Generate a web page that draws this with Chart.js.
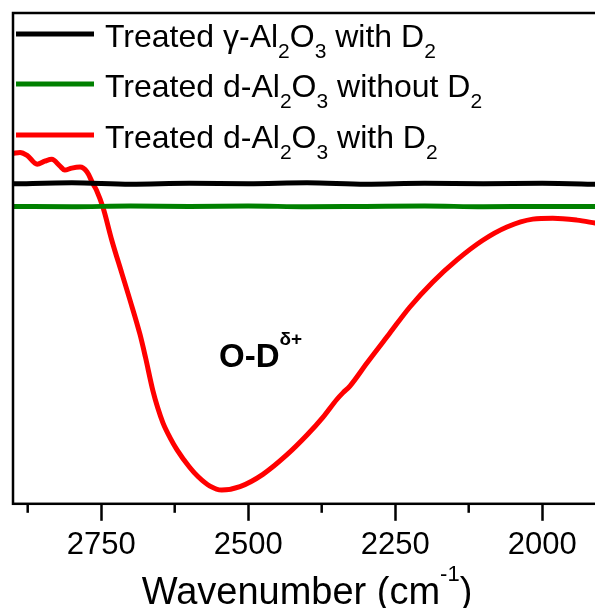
<!DOCTYPE html>
<html>
<head>
<meta charset="utf-8">
<script src="https://cdn.jsdelivr.net/npm/chart.js@4"></script>
<style>
    html, body { margin: 0; padding: 0; background: #fff; overflow: hidden; }
    #wrap { width: 595px; height: 608px; overflow: hidden; }
    canvas { display: block; }
</style>
</head>
<body>
<div id="wrap"><canvas id="spectrum" width="602" height="608"></canvas></div>
<script>
// wavenumber axis (cm-1), drawn reversed
const xMin = 1900;
const xMax = 2900;
const majorTicks = [2750, 2500, 2250, 2000];
const minorTicks = [2875, 2625, 2375, 2125];

// red: treated d-Al2O3 with D2
const redWavenumbers = [2900, 2888, 2876, 2859, 2846, 2834, 2820, 2812, 2800, 2786, 2774, 2764, 2758,
    2747, 2732, 2715, 2701, 2684, 2675, 2662, 2654, 2645, 2633, 2621, 2600, 2585, 2565, 2545, 2514,
    2475, 2434, 2400, 2373, 2349, 2339, 2327, 2298, 2259, 2225, 2186, 2145, 2101, 2060, 2016, 1982,
    1941, 1910, 1895];
const redValues = [71.4, 71.6, 71.0, 69.2, 69.8, 70.2, 68.8, 68.0, 68.4, 68.6, 67.6, 65.2, 63.9,
    60.4, 53.7, 47.0, 41.5, 34.5, 30.0, 23.0, 19.6, 16.5, 13.5, 11.0, 7.5, 5.5, 3.6, 2.8, 3.5,
    6.0, 10.0, 14.0, 17.6, 21.3, 22.6, 24.0, 28.7, 34.8, 40.1, 45.2, 49.7, 53.7, 56.4, 58.0, 58.2,
    57.8, 57.2, 56.9];

// black and green: flat baselines
const flatWavenumbers = [2900, 2800, 2700, 2600, 2500, 2400, 2300, 2200, 2100, 2000, 1900];
const blackValues = [65.2, 65.4, 65.1, 65.3, 65.2, 65.4, 65.1, 65.3, 65.2, 65.3, 65.1];
const greenValues = [60.6, 60.5, 60.7, 60.6, 60.7, 60.5, 60.6, 60.7, 60.5, 60.6, 60.6];

const seriesColors = ['#000000', '#008000', '#ff0000'];
// legend text, split for subscripts
const legendTexts = [
    [['Treated γ-Al'], ['2', 'sub'], ['O'], ['3', 'sub'], [' with D'], ['2', 'sub']],
    [['Treated d-Al'], ['2', 'sub'], ['O'], ['3', 'sub'], [' without D'], ['2', 'sub']],
    [['Treated d-Al'], ['2', 'sub'], ['O'], ['3', 'sub'], [' with D'], ['2', 'sub']]
];
const axisTitle = [['Wavenumber (cm'], ['-1', 'sup'], [')']];
const peakLabel = [['O-D'], ['δ+', 'sup']];

const FONT = '"Liberation Sans", Arial, sans-serif';

function toPoints(xs, ys) {
    return xs.map((x, i) => ({ x: x, y: ys[i] }));
}

/**
 * draw text pieces with sub / superscripts, returns total width
 */
function drawRich(ctx, parts, x, y, opt, measureOnly) {
    let cx = x;
    parts.forEach(p => {
        const kind = p[1];
        const size = kind ? opt.small : opt.size;
        ctx.font = (opt.bold ? 'bold ' : '') + size + 'px ' + FONT;
        let dy = 0;
        if (kind === 'sub') dy = opt.subDy;
        if (kind === 'sup') dy = -opt.supDy;
        if (!measureOnly) ctx.fillText(p[0], cx, y + dy);
        cx += ctx.measureText(p[0]).width;
    });
    return cx - x;
}

const decorPlugin = {
    id: 'decor',
    afterDraw(chart) {
        const ctx = chart.ctx;
        const a = chart.chartArea;
        const xs = chart.scales.x;
        ctx.save();

        // frame
        ctx.strokeStyle = '#000';
        ctx.lineWidth = 2.5;
        ctx.strokeRect(a.left, a.top, a.right - a.left, a.bottom - a.top);

        // minor ticks
        minorTicks.forEach(v => {
            const px = xs.getPixelForValue(v);
            ctx.beginPath();
            ctx.moveTo(px, a.bottom);
            ctx.lineTo(px, a.bottom + 9);
            ctx.stroke();
        });

        // legend
        ctx.fillStyle = '#000';
        ctx.textBaseline = 'alphabetic';
        ctx.textAlign = 'left';
        const rowBase = [47, 97, 148];
        chart.data.datasets.forEach((ds, i) => {
            ctx.strokeStyle = ds.borderColor;
            ctx.lineWidth = 5;
            ctx.beginPath();
            ctx.moveTo(16, rowBase[i] - 13);
            ctx.lineTo(94, rowBase[i] - 13);
            ctx.stroke();
            drawRich(ctx, legendTexts[i], 105, rowBase[i], { size: 32, small: 21, subDy: 11, supDy: 0 });
        });

        // peak label
        drawRich(ctx, peakLabel, 219, 367, { size: 33, small: 19, subDy: 0, supDy: 22, bold: true });

        // axis title
        const tOpt = { size: 38, small: 22, subDy: 0, supDy: 23 };
        const w = drawRich(ctx, axisTitle, 0, 0, tOpt, true);
        drawRich(ctx, axisTitle, (a.left + a.right) / 2 - w / 2, 604, tOpt);

        ctx.restore();
    }
};

new Chart(document.getElementById('spectrum'), {
    type: 'line',
    data: {
        datasets: [
            { label: 'Treated γ-Al2O3 with D2', data: toPoints(flatWavenumbers, blackValues), borderColor: seriesColors[0] },
            { label: 'Treated d-Al2O3 without D2', data: toPoints(flatWavenumbers, greenValues), borderColor: seriesColors[1] },
            { label: 'Treated d-Al2O3 with D2', data: toPoints(redWavenumbers, redValues), borderColor: seriesColors[2] }
        ]
    },
    options: {
        responsive: false,
        animation: false,
        elements: {
            point: { radius: 0 },
            line: { borderWidth: 5, cubicInterpolationMode: 'monotone', fill: false }
        },
        layout: { padding: { left: 13, top: 13, right: 1, bottom: 38 } },
        plugins: {
            legend: { display: false },
            tooltip: { enabled: false }
        },
        scales: {
            x: {
                type: 'linear',
                min: xMin,
                max: xMax,
                reverse: true,
                afterBuildTicks: axis => {
                    axis.ticks = majorTicks.map(v => ({ value: v }));
                },
                grid: {
                    drawOnChartArea: false,
                    drawTicks: true,
                    tickLength: 17,
                    tickWidth: 2.5,
                    tickColor: '#000'
                },
                border: { display: false },
                ticks: {
                    maxRotation: 0,
                    autoSkip: false,
                    padding: 6,
                    color: '#000',
                    font: { family: FONT, size: 31 },
                    callback: v => String(v)
                }
            },
            y: {
                display: false,
                min: 0,
                max: 100
            }
        }
    },
    plugins: [decorPlugin]
});
</script>
</body>
</html>
